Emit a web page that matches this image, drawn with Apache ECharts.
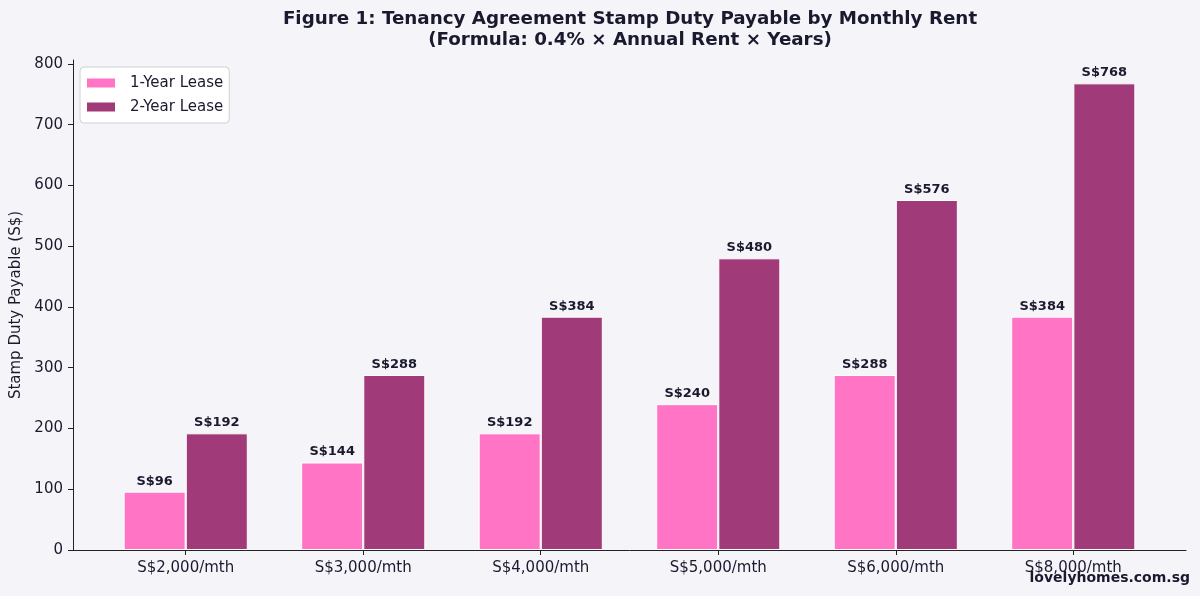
<!DOCTYPE html>
<html><head><meta charset="utf-8">
<script src="https://cdn.jsdelivr.net/npm/echarts@6/dist/echarts.min.js"></script>
<style>html,body{margin:0;padding:0;background:#f5f4f9;}#c{width:1200px;height:596px;}</style>
</head><body><div id="c"></div>
<script>
const categories = ['S$2,000/mth','S$3,000/mth','S$4,000/mth','S$5,000/mth','S$6,000/mth','S$8,000/mth'];
const oneYear = [96,144,192,240,288,384];
const twoYear = [192,288,384,480,576,768];
const yTicks = [0,100,200,300,400,500,600,700,800];
const seriesNames = ['1-Year Lease','2-Year Lease'];
const colors = ['#ff74c5','#a03a78'];
const txt = '#1a1a2e';
const font = 'DejaVu Sans';
const half = 0.175;

const chart = echarts.init(document.getElementById('c'));
function mk(name, vals, off, color){
  return {
    name, type:'bar', barWidth: 62, barGap:'-100%',
    data: vals.map((v,i)=>[i+off, v]),
    itemStyle:{color, borderColor:'#ffffff', borderWidth:1},
    label:{show:true, position:'top', distance:4, formatter:p=>'S$'+p.value[1],
      fontFamily:font, fontWeight:'bold', fontSize:13, color:txt}
  };
}
chart.setOption({
  backgroundColor:'#f5f4f9',
  animation:false,
  textStyle:{fontFamily:font},
  title:{text:'Figure 1: Tenancy Agreement Stamp Duty Payable by Monthly Rent\n(Formula: 0.4% × Annual Rent × Years)',
    left:625, textAlign:'center', top:4,
    textStyle:{fontFamily:font, fontWeight:'bold', fontSize:18.3, color:txt, lineHeight:21}},
  legend:{orient:'vertical', left:80, top:67, icon:'rect', itemWidth:28, itemHeight:9, itemGap:8,
    padding:[8,6,8,7], backgroundColor:'#ffffff', borderColor:'#d0d0d0', borderWidth:1, borderRadius:4,
    textStyle:{fontFamily:font, fontSize:15, color:txt, padding:[0,0,0,10], lineHeight:16},
    data:seriesNames.map((n,i)=>({name:n, itemStyle:{color:colors[i], borderWidth:0}}))},
  grid:{left:73, right:14, top:60, bottom:46},
  xAxis:{type:'value', min:-0.635, max:5.635,
    axisLine:{show:true, onZero:false, lineStyle:{color:'#222222', width:1}},
    axisTick:{show:true, customValues:[0,1,2,3,4,5], length:5, lineStyle:{color:'#222222'}},
    axisLabel:{customValues:[0,1,2,3,4,5], formatter:v=>categories[Math.round(v)], fontFamily:font, fontSize:15, color:txt, margin:11},
    splitLine:{show:false}},
  yAxis:{type:'value', min:0, max:806.4,
    name:'Stamp Duty Payable (S$)', nameLocation:'middle', nameGap:49,
    nameTextStyle:{fontFamily:font, fontSize:15, color:txt},
    axisLine:{show:true, onZero:false, lineStyle:{color:'#222222', width:1}},
    axisTick:{show:true, customValues:yTicks, length:5, lineStyle:{color:'#222222'}},
    axisLabel:{customValues:yTicks, fontFamily:font, fontSize:15, color:txt, margin:10},
    splitLine:{show:false}},
  series:[mk(seriesNames[0], oneYear, -half, colors[0]), mk(seriesNames[1], twoYear, half, colors[1])],
  graphic:[{type:'text', right:10, bottom:11, style:{text:'lovelyhomes.com.sg', fontFamily:font, fontWeight:'bold', fontSize:14, fill:txt}}]
});
</script></body></html>
